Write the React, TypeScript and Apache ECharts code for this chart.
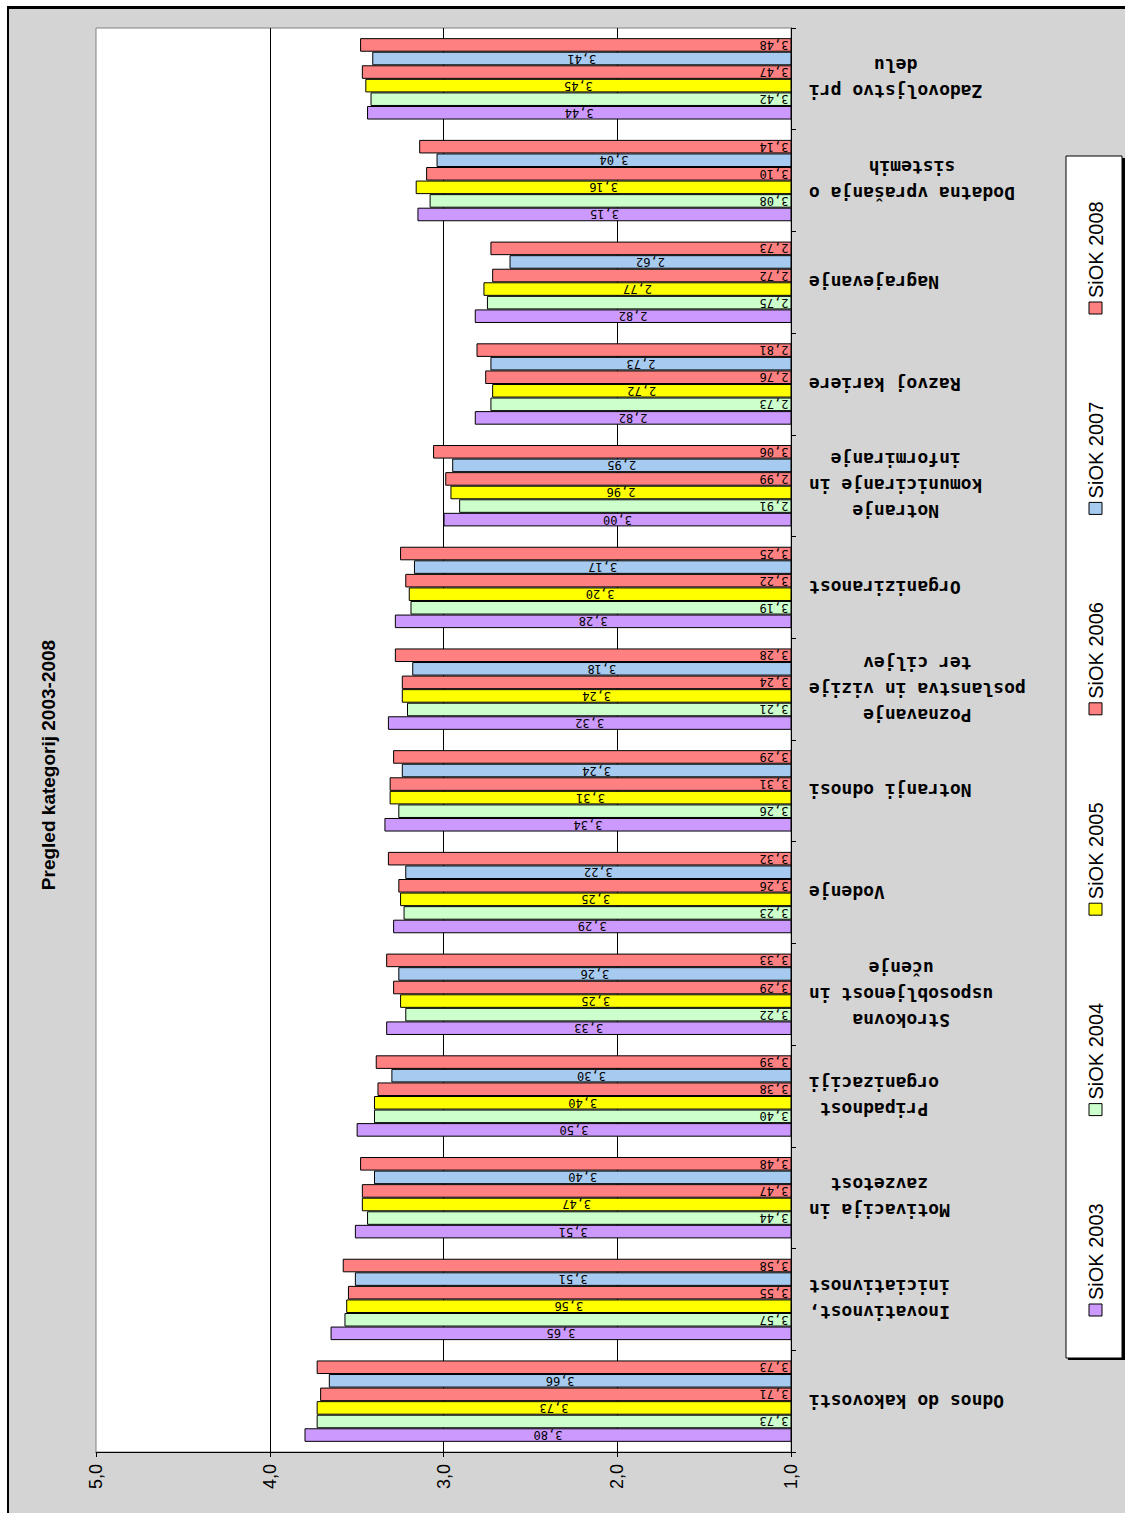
import React, { useEffect, useRef } from 'react';
import * as echarts from 'echarts';

const categories = [
  'Odnos do kakovosti',
  'Inovativnost,\niniciativnost',
  'Motivacija in\nzavzetost',
  'Pripadnost\norganizaciji',
  'Strokovna\nusposobljenost in\nučenje',
  'Vodenje',
  'Notranji odnosi',
  'Poznavanje\nposlanstva in vizije\nter ciljev',
  'Organiziranost',
  'Notranje\nkomuniciranje in\ninformiranje',
  'Razvoj kariere',
  'Nagrajevanje',
  'Dodatna vprašanja o\nsistemih',
  'Zadovoljstvo pri\ndelu',
];

const seriesNames = ['SiOK 2003', 'SiOK 2004', 'SiOK 2005', 'SiOK 2006', 'SiOK 2007', 'SiOK 2008'];
const seriesColors = ['#cc99ff', '#ccffcc', '#ffff00', '#ff8080', '#a6caf0', '#ff8080'];

const siok2003 = [3.80, 3.65, 3.51, 3.50, 3.33, 3.29, 3.34, 3.32, 3.28, 3.00, 2.82, 2.82, 3.15, 3.44];
const siok2004 = [3.73, 3.57, 3.44, 3.40, 3.22, 3.23, 3.26, 3.21, 3.19, 2.91, 2.73, 2.75, 3.08, 3.42];
const siok2005 = [3.73, 3.56, 3.47, 3.40, 3.25, 3.25, 3.31, 3.24, 3.20, 2.96, 2.72, 2.77, 3.16, 3.45];
const siok2006 = [3.71, 3.55, 3.47, 3.38, 3.29, 3.26, 3.31, 3.24, 3.22, 2.99, 2.76, 2.72, 3.10, 3.47];
const siok2007 = [3.66, 3.51, 3.40, 3.30, 3.26, 3.22, 3.24, 3.18, 3.17, 2.95, 2.73, 2.62, 3.04, 3.41];
const siok2008 = [3.73, 3.58, 3.48, 3.39, 3.33, 3.32, 3.29, 3.28, 3.25, 3.06, 2.81, 2.73, 3.14, 3.48];
const seriesValues = [siok2003, siok2004, siok2005, siok2006, siok2007, siok2008];

// label placement per series: centered or near the base
const labelAtBase = [false, true, false, true, false, true];

const axisMin = 1;
const axisMax = 5;
const axisStep = 1;
const titleText = 'Pregled kategorij 2003-2008';

const NARROW = '"Liberation Sans Narrow", "Arial Narrow", "Liberation Sans", sans-serif';
const SANS = '"Liberation Sans", Arial, sans-serif';
const MONO = '"DejaVu Sans Mono", monospace';

export default function App() {
  const ref = useRef<HTMLDivElement>(null);

  useEffect(() => {
    const chart = echarts.init(ref.current!, null, { renderer: 'svg' });

    const fmt = (p: any) => p.value.toFixed(2).replace('.', ',');
    // horizontal bars place the first series on top, so feed them in reverse
    const order = seriesNames.map((_, i) => i).reverse();
    const series = order.map((i) => ({
      name: seriesNames[i],
      type: 'bar',
      data: seriesValues[i],
      barGap: '0%',
      barCategoryGap: '20%',
      itemStyle: { color: seriesColors[i], borderColor: '#000', borderWidth: 1 },
      label: labelAtBase[i]
        ? {
            show: true,
            position: 'insideRight',
            rotate: 180,
            align: 'left',
            verticalAlign: 'middle',
            distance: 3,
            fontSize: 12,
            fontFamily: MONO,
            color: '#000',
            formatter: fmt,
          }
        : {
            show: true,
            position: 'inside',
            rotate: 180,
            fontSize: 12,
            fontFamily: MONO,
            color: '#000',
            formatter: fmt,
          },
    }));

    const legendGraphics: any[] = [
      { type: 'rect', shape: { x: 1068, y: 158, width: 58, height: 1202 }, style: { fill: '#000' }, silent: true },
      { type: 'rect', shape: { x: 1066, y: 156, width: 56, height: 1202 }, style: { fill: '#fff', stroke: '#000', lineWidth: 1 }, silent: true },
    ];
    seriesNames.forEach((name, i) => {
      const cy = 1310 - i * 200.4;
      legendGraphics.push({
        type: 'rect',
        shape: { x: 1089, y: cy - 6, width: 13, height: 12 },
        style: { fill: seriesColors[i], stroke: '#000', lineWidth: 1 },
        silent: true,
      });
      legendGraphics.push({
        type: 'text',
        x: 1096,
        y: cy - 10,
        rotation: Math.PI / 2,
        style: {
          text: name,
          fontSize: 20,
          fontFamily: SANS,
          fill: '#000',
          align: 'left',
          verticalAlign: 'middle',
        },
        silent: true,
      });
    });

    chart.setOption({
      animation: false,
      grid: {
        show: true,
        left: 96,
        top: 28,
        right: 334,
        bottom: 61,
        backgroundColor: '#ffffff',
        borderColor: '#808080',
        borderWidth: 1,
      },
      xAxis: {
        type: 'value',
        min: axisMin,
        max: axisMax,
        interval: axisStep,
        inverse: true,
        position: 'bottom',
        axisLine: { show: true, lineStyle: { color: '#000', width: 1 } },
        axisTick: { show: true, length: 5, lineStyle: { color: '#000' } },
        splitLine: { show: true, showMaxLine: false, lineStyle: { color: '#000', width: 1 } },
        axisLabel: {
          rotate: 90,
          margin: 12,
          fontSize: 18,
          fontFamily: SANS,
          color: '#000',
          formatter: (v: number) => v.toFixed(1).replace('.', ','),
        },
      },
      yAxis: {
        type: 'category',
        position: 'right',
        data: categories,
        axisLine: { show: true, lineStyle: { color: '#000', width: 1 } },
        axisTick: { show: true, length: 5, lineStyle: { color: '#000' } },
        splitLine: { show: false },
        axisLabel: {
          interval: 0,
          rotate: 180,
          margin: 18,
          color: '#000',
          formatter: (v: string) => v.split('\n').map((l) => `{c|${l}}`).join('\n'),
          rich: {
            c: {
              align: 'center',
              fontFamily: MONO,
              fontWeight: 'bold',
              fontSize: 18,
              lineHeight: 26,
              color: '#000',
            },
          },
        },
      },
      series,
      graphic: [
        {
          type: 'text',
          x: 48,
          y: 765,
          rotation: Math.PI / 2,
          style: {
            text: titleText,
            fontSize: 19,
            fontWeight: 'bold',
            fontFamily: NARROW,
            fill: '#000',
            align: 'center',
            verticalAlign: 'middle',
          },
          silent: true,
        },
        ...legendGraphics,
      ],
    });

    return () => chart.dispose();
  }, []);

  return (
    <div style={{ position: 'absolute', left: 0, top: 0, width: 1125, height: 1513, background: '#fff', overflow: 'hidden' }}>
      <div
        style={{
          position: 'absolute',
          left: 7,
          top: 6,
          width: 1118,
          height: 1507,
          background: '#d4d4d4',
          borderTop: '3px solid #000',
          borderLeft: '2px solid #000',
          boxSizing: 'border-box',
        }}
      />
      <div ref={ref} style={{ position: 'absolute', left: 0, top: 0, width: 1125, height: 1513 }} />
    </div>
  );
}
